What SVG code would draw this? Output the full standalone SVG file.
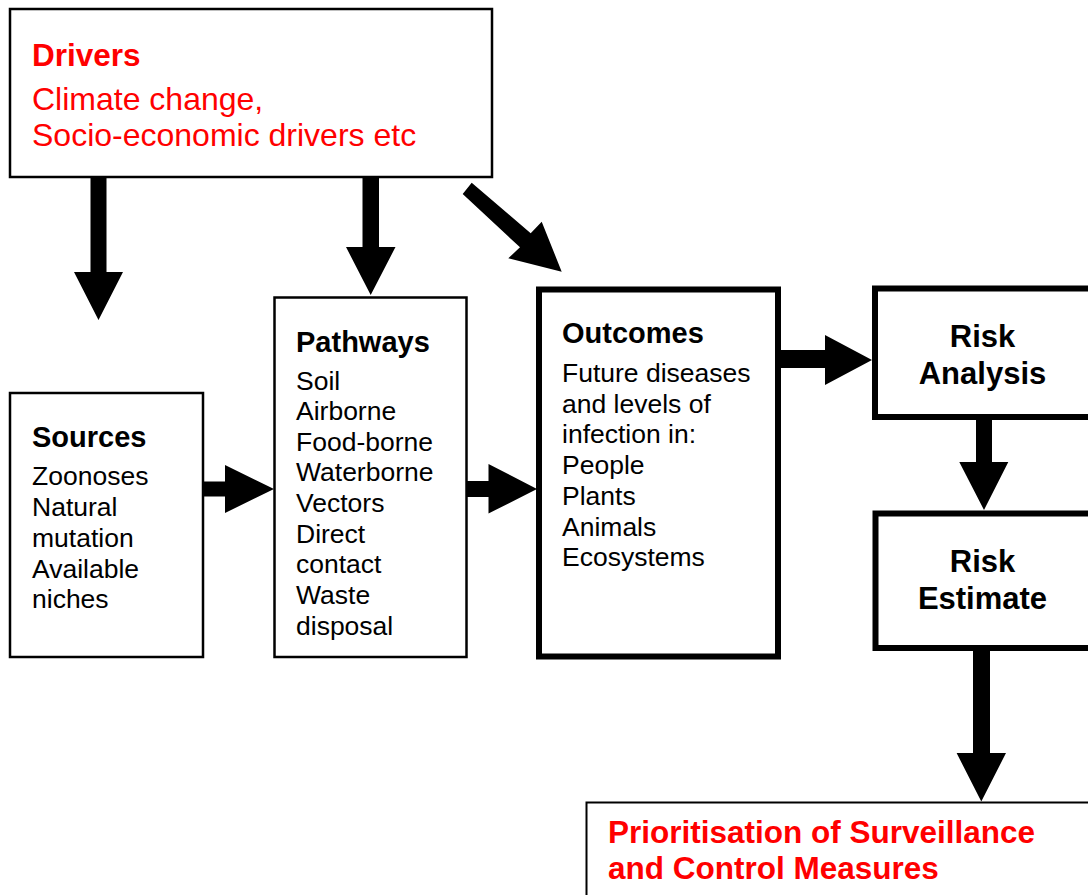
<svg xmlns="http://www.w3.org/2000/svg" width="1088" height="895" viewBox="0 0 1088 895">
<style>
.box{fill:#fff;stroke:#000;stroke-width:2.5}
.thick{fill:#fff;stroke:#000;stroke-width:6}
.arrow{fill:#000;stroke:none}
text{font-family:"Liberation Sans",Arial,sans-serif}
.h{font-weight:bold;font-size:29px;fill:#000}
.t{font-size:26.5px;fill:#000}
.rh{font-weight:bold;font-size:31px;fill:#000;text-anchor:middle}
.red{fill:#ff0000}
</style>
<rect width="1088" height="895" fill="#fff"/>
<g id="connectors">
<polygon class="arrow" points="90.5,177 106.5,177 106.5,272 123,272 98.5,320 74,272 90.5,272"/>
<polygon class="arrow" points="362.5,177 379,177 379,247 395.5,247 370.7,295 346,247 362.5,247"/>
<polygon class="arrow" points="471.7,182.7 530.7,233.3 541.7,221.7 561.7,271.7 508.3,258.3 520,247.3 462.7,194"/>
<polygon class="arrow" points="203,481.5 225,481.5 225,465 274,489 225,513 225,496.5 203,496.5"/>
<polygon class="arrow" points="467,481 488.5,481 488.5,464 537,489 488.5,513.5 488.5,497 467,497"/>
<polygon class="arrow" points="779,350 825,350 825,335 872,360 825,385 825,368 779,368"/>
<polygon class="arrow" points="976,418 992,418 992,462 1008.3,462 984,510 959.3,462 976,462"/>
<polygon class="arrow" points="973,642 990,642 990,753 1006,753 981.3,801.5 956.6,753 973,753"/>
</g>
<g id="drivers">
<rect class="box" x="10" y="9" width="482" height="168"/>
<text x="32" y="66" class="red" style="font-weight:bold;font-size:31.5px">Drivers</text>
<text x="32" y="110" class="red" style="font-size:32px">Climate change,</text>
<text x="32" y="146" class="red" style="font-size:32px">Socio-economic drivers etc</text>
</g>
<g id="sources">
<rect class="box" x="10" y="393" width="193" height="264"/>
<text x="32" y="447" class="h">Sources</text>
<text x="32" y="485" class="t">Zoonoses</text>
<text x="32" y="516" class="t">Natural</text>
<text x="32" y="547" class="t">mutation</text>
<text x="32" y="578" class="t">Available</text>
<text x="32" y="608" class="t">niches</text>
</g>
<g id="pathways">
<rect class="box" x="274.5" y="297.5" width="192" height="359.5"/>
<text x="296" y="352" class="h">Pathways</text>
<text x="296" y="390" class="t">Soil</text>
<text x="296" y="420" class="t">Airborne</text>
<text x="296" y="451" class="t">Food-borne</text>
<text x="296" y="481" class="t">Waterborne</text>
<text x="296" y="512" class="t">Vectors</text>
<text x="296" y="543" class="t">Direct</text>
<text x="296" y="573" class="t">contact</text>
<text x="296" y="604" class="t">Waste</text>
<text x="296" y="635" class="t">disposal</text>
</g>
<g id="outcomes">
<rect class="thick" x="539" y="289.5" width="239" height="367"/>
<text x="562" y="343" class="h">Outcomes</text>
<text x="562" y="382" class="t">Future diseases</text>
<text x="562" y="413" class="t">and levels of</text>
<text x="562" y="443" class="t">infection in:</text>
<text x="562" y="474" class="t">People</text>
<text x="562" y="505" class="t">Plants</text>
<text x="562" y="536" class="t">Animals</text>
<text x="562" y="566" class="t">Ecosystems</text>
</g>
<g id="risk-analysis">
<rect class="thick" x="875" y="288.5" width="220" height="128.5"/>
<text x="982.5" y="347" class="rh">Risk</text>
<text x="982.5" y="384" class="rh">Analysis</text>
</g>
<g id="risk-estimate">
<rect class="thick" x="875.5" y="513.5" width="220" height="134.5"/>
<text x="982.5" y="572" class="rh">Risk</text>
<text x="982.5" y="609" class="rh">Estimate</text>
</g>
<g id="prioritisation">
<rect class="box" x="586.5" y="802.5" width="520" height="120" style="stroke-width:2"/>
<text x="608" y="843" class="red" style="font-weight:bold;font-size:31.5px">Prioritisation of Surveillance</text>
<text x="608" y="879" class="red" style="font-weight:bold;font-size:31.5px">and Control Measures</text>
</g>
</svg>
